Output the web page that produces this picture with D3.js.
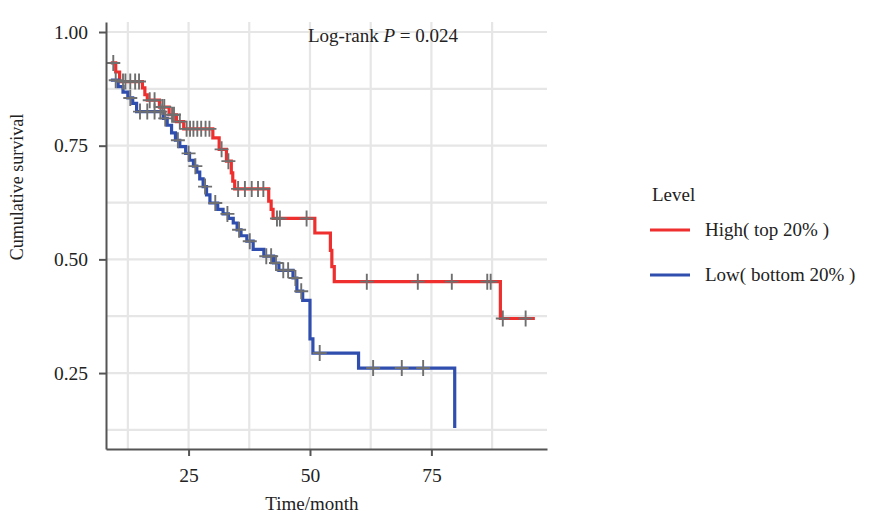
<!DOCTYPE html>
<html>
<head>
<meta charset="utf-8">
<script src="https://cdn.jsdelivr.net/npm/d3@7"></script>
<style>
  html, body { margin: 0; padding: 0; background: #ffffff; }
  svg { display: block; }
</style>
</head>
<body>
<div id="chart"></div>
<script>
// Kaplan-Meier steps: [time (month), survival after the step]
const highSteps = [
    [9, 0.932], [10, 0.912], [10.8, 0.891], [15.5, 0.877], [16, 0.862], [16.5, 0.850],
    [19, 0.835], [21, 0.818], [22.5, 0.803], [24, 0.787], [30, 0.767], [31.3, 0.742],
    [32.8, 0.716], [33.8, 0.690], [34.1, 0.672], [34.5, 0.655], [41.5, 0.628], [42, 0.610],
    [42.4, 0.590], [51, 0.558], [54.2, 0.520], [54.5, 0.484], [55, 0.451], [89.2, 0.370]
];
const highEnd = 96.3;
const highCensor = [
    9.5, 11.5, 12, 13, 14, 14.8, 17, 18, 19.6, 20, 21.6, 22, 23.2, 24.6, 25.3, 26, 26.8,
    27.6, 28.5, 29.3, 31.8, 33.2, 35.2, 36.6, 38, 39.3, 40.4, 43.2, 43.8, 49.3, 61.7,
    72.2, 79.2, 86.5, 87.2, 89.7, 94.4
];

const lowSteps = [
    [9, 0.894], [10.5, 0.880], [11.5, 0.868], [12.5, 0.855], [13.5, 0.843], [14.3, 0.825],
    [19.8, 0.810], [20.6, 0.795], [21.5, 0.778], [22.3, 0.762], [23.2, 0.748], [24.4, 0.733],
    [25.2, 0.718], [26.0, 0.705], [26.7, 0.692], [27.3, 0.677], [28.0, 0.660], [28.7, 0.642],
    [29.4, 0.624], [31.0, 0.610], [32.1, 0.600], [33.2, 0.590], [34.2, 0.580], [35.0, 0.565],
    [35.8, 0.552], [37.0, 0.540], [38.3, 0.522], [40.5, 0.507], [42.5, 0.492], [43.6, 0.476],
    [46.5, 0.459], [47.3, 0.430], [48.5, 0.410], [50.0, 0.325], [50.6, 0.294], [60, 0.261],
    [79.8, 0.129]
];
const lowEnd = 79.8;
const lowCensor = [
    10, 13, 15, 16.5, 18, 19.2, 20.2, 22.8, 25, 26.4, 28.4, 30.5, 33, 35.4, 37.6, 41, 42,
    43, 44.5, 45.5, 47, 48.2, 52, 63, 68.9, 73.3
];

const xTicks = [25, 50, 75];
const xMinor = [12.5, 37.5, 62.5, 87.5];
const yTicks = [0.25, 0.50, 0.75, 1.00];
const yMinor = [0.125, 0.375, 0.625, 0.875];

const groups = [
    { name: 'High( top 20% )', steps: highSteps, end: highEnd, censor: highCensor, color: '#ef2e2e' },
    { name: 'Low( bottom 20% )', steps: lowSteps, end: lowEnd, censor: lowCensor, color: '#2f4eae' }
];

const width = 869, height = 514;
const font = '"Liberation Serif", "Times New Roman", serif';
const panel = { left: 106, right: 547, top: 22, bottom: 449 };

const svg = d3.select('#chart').append('svg')
    .attr('width', width)
    .attr('height', height)
    .style('background', '#ffffff');

const x = d3.scaleLinear().domain([8, 98.8]).range([panel.left, panel.right]);
const y = d3.scaleLinear().domain([0.083, 1.022]).range([panel.bottom, panel.top]);

// survival value at time t (step function)
function survAt(steps, t) {
    let s = steps[0][1];
    steps.forEach(d => { if (d[0] <= t) s = d[1]; });
    return s;
}

// Grid
const grid = svg.append('g').attr('class', 'grid');
grid.selectAll('line.vx')
    .data(xMinor.concat(xTicks))
    .enter().append('line')
    .attr('x1', d => x(d)).attr('x2', d => x(d))
    .attr('y1', panel.top).attr('y2', panel.bottom)
    .attr('stroke', '#e6e6e6').attr('stroke-width', 2.2);
grid.selectAll('line.hy')
    .data(yMinor.concat(yTicks))
    .enter().append('line')
    .attr('y1', d => y(d)).attr('y2', d => y(d))
    .attr('x1', panel.left).attr('x2', panel.right)
    .attr('stroke', '#e6e6e6').attr('stroke-width', 2.2);

// Curves
const line = d3.line().curve(d3.curveStepAfter).x(d => x(d[0])).y(d => y(d[1]));
groups.forEach(g => {
    const pts = g.steps.concat([[g.end, g.steps[g.steps.length - 1][1]]]);
    svg.append('path')
        .attr('d', line(pts))
        .attr('fill', 'none')
        .attr('stroke', g.color)
        .attr('stroke-width', 3.2);
});

// Censor marks
groups.forEach(g => {
    svg.append('g').selectAll('path')
        .data(g.censor)
        .enter().append('path')
        .attr('transform', t => `translate(${x(t)},${y(survAt(g.steps, t))})`)
        .attr('d', 'M-7,0H7M0,-8V8')
        .attr('stroke', '#6f6f6f')
        .attr('stroke-width', 1.9)
        .attr('fill', 'none');
});

// Axes
const yAxis = svg.append('g')
    .attr('transform', `translate(${panel.left},0)`)
    .call(d3.axisLeft(y).tickValues(yTicks).tickFormat(d3.format('.2f'))
        .tickSize(7).tickSizeOuter(0).tickPadding(11));
const xAxis = svg.append('g')
    .attr('transform', `translate(0,${panel.bottom})`)
    .call(d3.axisBottom(x).tickValues(xTicks).tickSize(7).tickSizeOuter(0).tickPadding(12));

[xAxis, yAxis].forEach(a => {
    a.select('.domain').attr('stroke', '#555555').attr('stroke-width', 2);
    a.selectAll('.tick line').attr('stroke', '#555555').attr('stroke-width', 2);
    a.selectAll('.tick text')
        .attr('font-family', font)
        .attr('font-size', 19.5)
        .attr('fill', '#222222');
});

// Axis titles
svg.append('text')
    .attr('x', 312).attr('y', 510)
    .attr('text-anchor', 'middle')
    .attr('font-family', font).attr('font-size', 19).attr('fill', '#222222')
    .text('Time/month');

svg.append('text')
    .attr('transform', 'translate(23,187) rotate(-90)')
    .attr('text-anchor', 'middle')
    .attr('font-family', font).attr('font-size', 18).attr('fill', '#222222')
    .text('Cumulative survival');

// Log-rank annotation
const ann = svg.append('text')
    .attr('x', 308).attr('y', 42)
    .attr('font-family', font).attr('font-size', 19).attr('fill', '#222222');
ann.append('tspan').text('Log-rank ');
ann.append('tspan').attr('font-style', 'italic').text('P');
ann.append('tspan').text(' = 0.024');

// Legend
const legend = svg.append('g').attr('transform', 'translate(650,0)');
legend.append('text')
    .attr('x', 2).attr('y', 201)
    .attr('font-family', font).attr('font-size', 19).attr('fill', '#222222')
    .text('Level');
groups.forEach((g, i) => {
    const ly = 230 + i * 45;
    legend.append('line')
        .attr('x1', 0).attr('x2', 40)
        .attr('y1', ly).attr('y2', ly)
        .attr('stroke', g.color).attr('stroke-width', 3);
    legend.append('text')
        .attr('x', 55).attr('y', ly + 6)
        .attr('font-family', font).attr('font-size', 19).attr('fill', '#222222')
        .text(g.name);
});
</script>
</body>
</html>
